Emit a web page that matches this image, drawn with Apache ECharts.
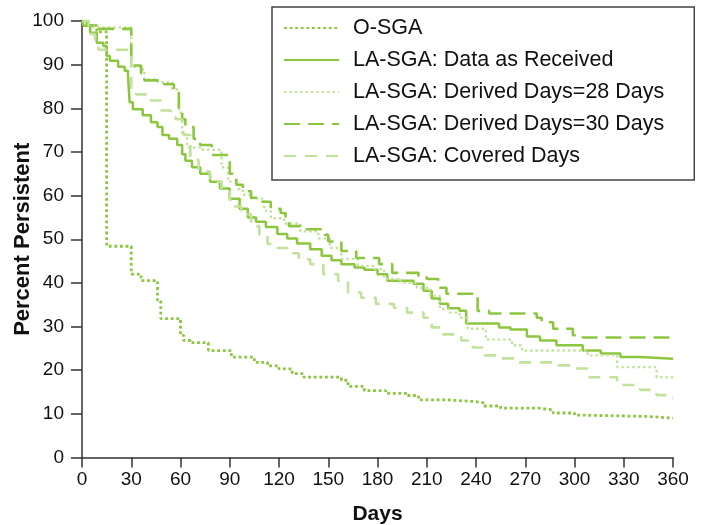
<!DOCTYPE html>
<html lang="en">
  <head>
    <meta charset="UTF-8" />
    <title>Percent Persistent</title>
    <script src="https://cdn.jsdelivr.net/npm/echarts@6/dist/echarts.min.js"></script>
  </head>
  <body style="margin: 0">
    <div id="main" style="width: 705px; height: 525px"></div>

    <script>
      // [day, percent persistent] - step curves
      var oSga = [
        [0, 100], [4, 99], [9, 97.5], [15, 48.4], [30, 42], [36, 40.5], [46, 36], [48, 31.8],
        [60, 28], [62, 26.8], [66, 26.3], [77, 24.5], [91, 23], [105, 21.8], [113, 21],
        [120, 20.3], [128, 19.2], [135, 18.4], [158, 17.7], [162, 16.3], [172, 15.3],
        [185, 14.7], [198, 14.2], [205, 13.2], [222, 12.8], [240, 12.5], [245, 11.8],
        [255, 11.3], [278, 10.9], [287, 10.2], [300, 9.7], [305, 9.4], [345, 9.0], [360, 9.0]
      ]
      var asReceived = [
        [0, 100], [1, 98.9], [5, 97.3], [9, 95], [13, 94.3], [15, 92], [17, 90.9], [22, 89.5],
        [26, 88.6], [28, 87.7], [29, 81.4], [31, 79.8], [37, 78.4], [42, 76.8], [46, 75.7],
        [49, 73.9], [53, 73], [58, 71.6], [61, 69.5], [63, 68], [67, 66.5], [72, 65],
        [78, 63.2], [84, 61.6], [90, 59.3], [96, 57], [101, 55], [106, 54], [112, 52.8],
        [119, 51.2], [125, 50.2], [131, 49], [139, 47.7], [146, 46.2], [152, 45.2],
        [158, 44.3], [166, 43.5], [172, 43], [180, 42], [186, 40.5], [202, 39.8], [208, 38.2],
        [213, 36.4], [218, 35.2], [223, 34.2], [230, 33.6], [234, 30.7], [254, 29.8],
        [261, 29.3], [271, 27.7], [279, 26.8], [289, 25.7], [305, 24.5], [316, 23.8],
        [328, 23], [340, 22.6], [360, 22.6]
      ]
      var derived28 = [
        [0, 100], [3, 99], [7, 98.5], [30, 89.5], [36, 88.9], [38, 86.6], [46, 86], [55, 84.3],
        [59, 79], [61, 74], [64, 71], [72, 70.5], [85, 66.5], [89, 63.2], [95, 61.5],
        [98, 60.2], [103, 59.3], [111, 56.5], [115, 54.8], [123, 53.6], [133, 51.8],
        [144, 50.2], [151, 48], [158, 45.5], [168, 43.9], [178, 43.2], [184, 40.9], [194, 40],
        [204, 38.9], [212, 37], [218, 34], [224, 33.2], [230, 32], [235, 29.5], [246, 27],
        [262, 25.7], [268, 24.5], [308, 23.4], [326, 20.7], [350, 18.4], [360, 18.4]
      ]
      var derived30 = [
        [0, 100], [3, 99], [7, 98.2], [30, 89.8], [36, 88], [38, 86.4], [50, 85.5], [56, 84.3],
        [59, 80], [61, 77.5], [63, 75.7], [68, 73], [72, 71.6], [79, 69.3], [90, 65], [94, 62.5],
        [98, 61], [103, 59.5], [108, 58.6], [115, 57], [121, 56], [124, 54], [126, 53],
        [133, 52.3], [148, 51], [150, 49.5], [158, 47.3], [167, 45.7], [181, 44.3], [189, 42.3],
        [205, 41.6], [210, 40.9], [217, 38.9], [222, 37.5], [241, 33.6], [248, 33], [277, 32],
        [280, 31], [287, 29.5], [299, 28], [305, 27.5], [360, 27.5]
      ]
      var coveredDays = [
        [0, 100], [4, 97], [8, 95], [10, 93.4], [30, 84], [33, 83.2], [42, 81.8], [48, 79.5],
        [54, 78], [57, 77.5], [61, 75.7], [62, 73.9], [66, 68.2], [71, 65.5], [78, 63.2],
        [85, 61], [90, 59], [92, 57.5], [97, 55.7], [103, 53], [108, 51], [113, 48.9],
        [118, 48], [125, 46.8], [132, 45.4], [139, 44.3], [147, 42], [156, 40.5], [162, 37.8],
        [170, 36.6], [179, 35.2], [190, 34.3], [198, 33.2], [208, 32], [213, 29.8], [220, 28.2],
        [231, 26.8], [238, 25.2], [245, 23.4], [255, 22.7], [265, 21.8], [290, 21.1],
        [299, 20.4], [308, 18.4], [326, 16.6], [340, 15.5], [350, 14.3], [356, 13.6], [360, 13.6]
      ]
      var seriesNames = [
        "O-SGA",
        "LA-SGA: Data as Received",
        "LA-SGA: Derived Days=28 Days",
        "LA-SGA: Derived Days=30 Days",
        "LA-SGA: Covered Days",
      ]

      var dark = "#8cc63f"
      var light = "#c2e29c"

      var chart = echarts.init(document.getElementById("main"))

      function stepLine(name, data, color, width, dash) {
        return {
          name: name,
          type: "line",
          step: "end",
          symbol: "none",
          data: data,
          lineStyle: { color: color, width: width, type: dash },
          itemStyle: { color: color },
        }
      }

      var option = {
        animation: false,
        textStyle: { fontFamily: "Liberation Sans, Arial, sans-serif" },
        grid: { left: 82, right: 32, top: 21, bottom: 67.5, containLabel: false, outerBoundsMode: "none" },
        legend: {
          orient: "vertical",
          left: 272,
          top: 7,
          padding: [10, 30, 13, 11],
          itemWidth: 55,
          itemHeight: 14,
          itemGap: 10,
          borderColor: "#444",
          borderWidth: 1.5,
          itemStyle: { opacity: 0 },
          textStyle: { fontSize: 21.5, color: "#111", lineHeight: 21, padding: [0, 0, 0, 9] },
          data: seriesNames,
        },
        xAxis: {
          type: "value",
          min: 0,
          max: 360,
          interval: 30,
          name: "Days",
          nameLocation: "middle",
          nameGap: 46,
          nameMoveOverlap: false,
          nameTextStyle: { fontSize: 21, fontWeight: "bold", color: "#111" },
          axisLine: { lineStyle: { color: "#333", width: 1.5 } },
          axisTick: { length: 10, lineStyle: { color: "#333", width: 1.5 } },
          axisLabel: { fontSize: 19, color: "#111", margin: 13 },
          splitLine: { show: false },
        },
        yAxis: {
          type: "value",
          min: 0,
          max: 100,
          interval: 10,
          name: "Percent Persistent",
          nameLocation: "middle",
          nameGap: 48,
          nameMoveOverlap: false,
          nameTextStyle: { fontSize: 22, fontWeight: "bold", color: "#111" },
          axisLine: { show: true, lineStyle: { color: "#333", width: 1.5 } },
          axisTick: { show: true, length: 11, lineStyle: { color: "#333", width: 1.5 } },
          axisLabel: { fontSize: 19, color: "#111", margin: 18 },
          splitLine: { show: false },
        },
        series: [
          stepLine(seriesNames[0], oSga, dark, 2.8, [2.8, 2.8]),
          stepLine(seriesNames[1], asReceived, dark, 2.5, "solid"),
          stepLine(seriesNames[2], derived28, light, 2.4, [2.4, 3]),
          stepLine(seriesNames[3], derived30, dark, 2.6, [16, 8]),
          stepLine(seriesNames[4], coveredDays, light, 2.6, [12, 9]),
        ],
      }

      chart.setOption(option)
    </script>
  </body>
</html>
